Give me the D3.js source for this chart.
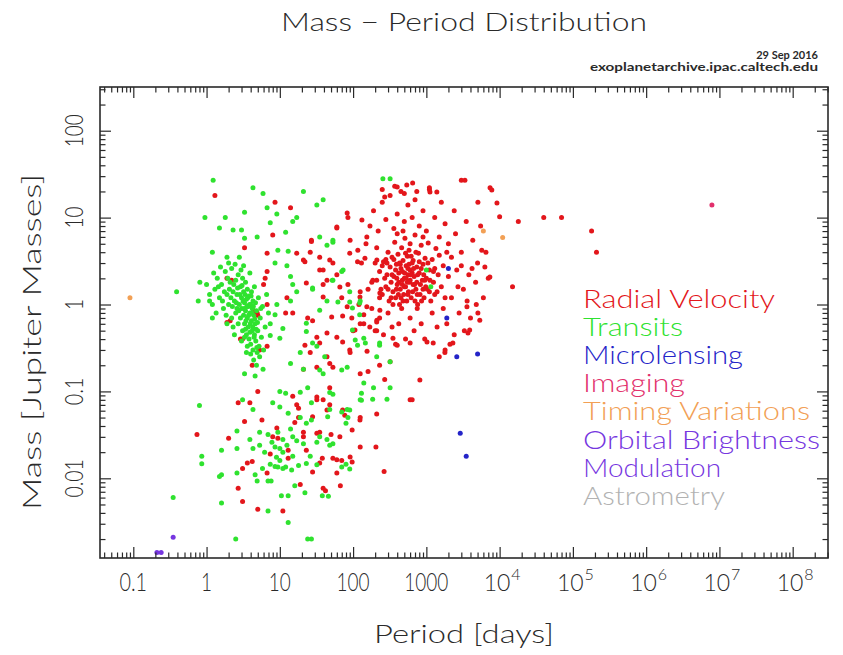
<!DOCTYPE html>
<html>
<head>
<meta charset="utf-8">
<script src="https://cdn.jsdelivr.net/npm/d3@7"></script>
<style>
  body { margin: 0; background: #fff; }
  svg { display: block; }
  text { font-family: "Lato", "DejaVu Sans", sans-serif; font-weight: 300; }
</style>
</head>
<body>
<svg id="chart" width="843" height="655"></svg>
<script>
// ---- data: [period (days), mass (Jupiter masses)] ----
const radialVelocity = [
  // dense clump of long-period giants
  [210,1.9],[230,2.4],[250,1.3],[260,3.1],[280,1.6],[290,2.2],[300,4.0],[310,1.1],[320,2.7],[330,1.8],
  [340,3.5],[350,1.4],[360,2.1],[370,5.2],[380,1.2],[390,2.9],[400,1.7],[410,3.8],[420,2.3],[430,1.0],
  [440,1.5],[450,2.6],[460,4.5],[470,1.9],[480,3.2],[490,1.3],[500,2.0],[510,5.8],[520,1.6],[530,2.8],
  [540,1.1],[550,3.6],[560,2.2],[570,1.4],[580,4.2],[590,1.8],[600,2.5],[620,1.2],[640,3.0],[660,1.7],
  [680,2.1],[700,6.3],[720,1.5],[740,2.7],[760,1.0],[780,3.9],[800,2.3],[820,1.3],[850,4.8],[880,1.9],
  [900,2.9],[930,1.2],[960,3.4],[1000,2.0],[1030,1.5],[1060,5.1],[1100,2.5],[1150,1.1],[1200,3.3],[1250,1.8],
  [1300,2.6],[1350,4.4],[1400,1.4],[1450,2.2],[1500,3.7],[1600,1.6],[1700,2.8],[1800,1.2],[1900,4.0],[2000,2.1],
  [240,1.5],[270,2.0],[330,1.2],[360,3.3],[390,1.5],[420,1.8],[440,2.9],[480,1.1],[500,1.6],[520,3.9],
  [560,1.3],[600,1.9],[640,2.3],[700,1.1],[740,1.8],[800,3.1],[860,1.1],[920,2.2],[980,1.6],[1050,3.0],
  [1120,1.9],[380,2.5],[430,3.0],[470,2.4],[530,2.0],[580,2.9],[620,3.6],[670,2.6],[720,4.0],[760,2.2],
  [450,1.2],[550,1.8],[650,1.4],[750,1.3],[850,2.6],[950,1.9],[1100,1.4],[1300,1.3],[1250,2.4],[900,1.5],
  [340,2.2],[300,1.5],[280,3.3],[250,2.8],[230,1.2],[200,3.0],[180,1.8],[400,6.5],[480,7.0],[600,5.0],
  [900,6.0],[350,1.0],[415,1.3],[505,2.3],[610,2.2],[690,1.7],[470,1.7],[395,2.0],[560,2.6],[660,3.2],[830,1.7],
  // sparser halo of the clump
  [120,1.0],[130,3.0],[140,0.6],[150,5.0],[160,1.5],[170,8.0],[180,0.9],[190,12],[200,0.5],[210,4.5],
  [220,7.0],[230,0.7],[250,15],[260,0.45],[280,9.5],[300,0.8],[320,18],[340,0.55],[360,7.5],[380,0.35],
  [400,11],[420,0.6],[450,20],[460,0.9],[500,9.0],[520,0.4],[560,14],[600,0.7],[640,10],[680,0.5],
  [700,16],[750,0.9],[800,8.0],[850,0.6],[900,12],[950,0.4],[1000,7.0],[1100,22],[1200,0.8],[1300,10],
  [1400,0.55],[1500,6.0],[1600,15],[1700,0.9],[1800,8.5],[1900,0.6],[2000,5.0],[2200,1.2],[2400,12],[2600,2.5],
  [2800,0.8],[3000,4.0],[3200,1.5],[3500,9.0],[3800,2.2],[4000,0.7],[4300,5.5],[4700,1.8],[5000,3.0],[5500,8.0],
  [6000,1.2],[6500,4.0],[7000,2.0],[2200,3.5],[2500,6.5],[2700,1.6],[3000,2.8],[3300,0.5],[3600,1.1],[4200,2.6],
  [4800,1.0],[2100,0.35],[1800,0.3],[1500,0.25],[2400,0.45],[370,23],[650,25],[1100,21],[3000,27],[7400,22],
  [250,21],[500,19],[3700,0.47],[3900,0.51],[2300,0.36],[1790,0.28],[1020,0.37],[1240,0.36],[600,0.36],[400,0.34],
  [5050,0.80],[5360,0.66],[3580,0.94],[7360,2.07],[6290,2.7],[5710,4.2],[10000,10.2],[9190,14.7],[7820,20.8],[3360,27],
  [5050,15],[1390,19.7],[1120,19.7],[740,20],[540,23.7],[400,22.5],[270,17.3],[600,0.08],[640,0.08],[815,0.135],
  // very long periods
  [18000,9.0],[40000,10],[70000,10],[180000,7.0],[210000,4.0],[15000,1.6],
  // intermediate periods
  [83,11.3],[132,9.4],[60,7.6],[27,5.5],[26,4.0],[21,3.25],[35,2.5],[44,1.9],[66,1.59],[83,0.94],
  [96,0.70],[106,0.51],[91,0.28],[169,0.55],[211,0.66],[232,0.86],[154,0.94],[124,1.22],[232,1.36],[186,1.9],
  [290,3.0],[211,3.25],[145,3.4],[116,4.2],[91,5.5],[154,6.0],[48,3.25],[35,3.5],[23,1.77],[39,1.22],
  [51,0.72],[60,0.42],[35,0.36],[26,0.28],[44,0.25],[32,0.19],[53,0.19],[48,0.11],[32,0.086],[44,0.061],
  [28,0.051],[72,0.061],[124,0.047],[21,0.030],[32,0.033],[66,0.030],[91,0.0176],[60,0.0163],[35,0.015],
  [8.6,15],[14,13],[8,6.3],[27,5.3],[60,7.8],[85,10],[6.7,3.9],[17,3.9],[22,3.1],[53,3],
  [39,2.5],[39,1.7],[60,2.2],[90,3.9],[115,3.1],[85,1.7],[70,1.2],[125,1.4],[12.5,1.2],[12,0.8],
  [15,0.8],[6.3,2],[6,1.7],[6.7,1.0],[5,0.75],[2.1,0.65],[3.1,0.4],[6.7,0.33],[24,0.7],[28,0.65],
  [32,0.42],[22,0.34],[44,0.47],[72,0.74],[140,0.76],[125,0.6],[100,0.5],[210,0.63],[210,0.5],[72,0.37],
  [90,0.3],[155,0.29],[350,0.41],[1.3,18],
  [3.3,4.5],[6.7,2.4],[2.2,1.9],[1.9,2.0],[4.9,0.8],[1.9,0.62],[2.9,0.4],[5.3,0.3],[4.4,0.85],
  // low-mass planets
  [4.2,0.2],[21,0.18],[48,0.21],[125,0.16],[160,0.17],[230,0.2],[320,0.22],
  [5,0.1],[2.7,0.074],[3.9,0.074],[15,0.088],[17,0.07],[32,0.08],[39,0.08],[48,0.07],[77,0.053],
  [125,0.05],[210,0.055],[270,0.137],[5.7,0.047],[9.1,0.038],[8,0.03],[16,0.044],[21,0.034],[35,0.034],[50,0.032],
  [97,0.036],[125,0.023],[205,0.023],[265,0.012],[3.3,0.045],[0.74,0.032],[2,0.029],[4.2,0.0156],[3.6,0.015],[7.4,0.019],
  [13,0.021],[13,0.017],[23,0.021],[38,0.017],[53,0.017],[70,0.016],[97,0.0154],[28,0.0118],[60,0.0115],[6.7,0.0115],
  [3.1,0.013],[2.7,0.0077],[19,0.0085],[39,0.0077],[42,0.0072],[67,0.0082],[3.1,0.0054],[5,0.0044],[11,0.0042],[9.4,0.029],
  [18,0.05],[18,0.064]
];

const transits = [
  // hot Jupiter clump
  [1.3,1.5],[1.4,2.0],[1.5,1.2],[1.6,1.7],[1.7,0.9],[1.8,2.4],[1.9,1.3],[2.0,1.0],[2.1,1.8],[2.2,0.7],
  [2.2,2.6],[2.3,1.4],[2.4,1.1],[2.5,0.8],[2.5,1.9],[2.6,1.3],[2.7,0.6],[2.7,2.2],[2.8,1.0],[2.9,1.6],
  [3.0,0.9],[3.0,1.2],[3.1,0.5],[3.1,2.0],[3.2,0.75],[3.2,1.4],[3.3,1.05],[3.3,0.6],[3.4,1.8],[3.4,0.85],
  [3.5,1.15],[3.5,0.45],[3.6,0.7],[3.6,1.5],[3.7,0.95],[3.7,0.55],[3.8,1.25],[3.8,0.4],[3.9,0.8],[3.9,2.3],
  [4.0,1.0],[4.0,0.35],[4.1,0.65],[4.1,1.4],[4.2,0.5],[4.2,0.9],[4.3,1.1],[4.3,0.3],[4.4,0.75],[4.5,0.45],
  [4.5,1.6],[4.6,0.6],[4.7,0.38],[4.8,0.85],[4.9,0.28],[5.0,0.5],[5.1,1.2],[5.2,0.33],[5.4,0.7],[5.6,0.42],
  [5.8,0.95],[6.0,0.3],[6.3,0.55],[6.6,1.3],[7.0,0.8],
  [1.2,1.0],[1.25,2.3],[1.35,0.8],[1.45,1.6],[1.55,2.7],[1.65,1.1],[1.75,1.4],[1.85,0.75],[1.95,2.0],[2.05,1.5],
  [2.15,1.2],[2.25,0.95],[2.35,1.7],[2.45,2.9],[2.55,1.05],[2.65,1.55],[2.75,0.85],[2.85,1.3],[2.95,2.5],[3.05,1.65],
  [3.15,1.1],[3.25,0.9],[3.35,1.3],[3.45,0.65],[3.55,0.95],[3.65,1.2],[3.75,0.75],[3.85,1.0],[3.95,0.6],[4.05,1.25],
  [4.15,0.8],[4.25,0.55],[4.35,0.95],[4.45,0.42],[4.55,0.68],[4.65,1.05],[4.75,0.52],[4.85,0.32],[4.95,0.62],[5.3,0.25],
  [5.5,0.9],[3.3,0.42],[3.6,0.33],[4.0,0.27],[3.9,0.48],[3.4,0.52],[2.9,0.7],[2.6,0.9],[2.3,0.55],[1.9,0.6],
  [2.0,3.0],[2.8,3.5],[3.2,2.8],[1.1,1.3],[1.0,1.7],[1.2,0.7],[2.4,0.45],[3.0,0.38],[3.5,0.28],[4.4,0.23],[4.8,0.2],
  // massive / wide transiting planets
  [1.23,27],[0.95,10],[1.8,10],[4.3,22],[5.9,19],[21,20],[39,16],[32,14],[3.3,11.5],[6.7,13],
  [9.1,11],[7.4,8.7],[17,10],[15,9],[1.5,7.6],[2.3,7.2],[3.0,7.2],[12,6.8],[4.9,6.0],[3.3,5.8],
  [1.2,4.0],[1.9,3.5],[9.4,4.2],[13,4.1],[44,4.8],[53,5.5],[35,6.0],[28,1.5],[44,1.1],[8.6,3.0],
  [12.5,2.8],[0.81,1.8],[0.39,1.4],[0.77,1.1],[1.1,1.1],[14,2.1],[15,1.7],[17,1.4],[14,1.1],[9.1,1.0],
  [8.6,0.76],[7.4,0.6],[7.4,0.44],[10,0.41],[11,0.53],[23,0.49],[32,0.33],[19,0.28],[90,1.4],[125,1.1],
  [98,0.91],[52,1.9],[70,2.4],[115,0.34],[140,0.41],[230,0.34],[210,0.25],[320,0.22],[255,28],[320,28],
  [1000,2.5],[1150,1.6],
  [53,5.2],[28,1.55],[53,1.9],[73,2.5],[62,1.07],[90,1.07],[123,1.04],[123,0.76],[98,0.51],[107,0.39],
  [147,0.36],[35,0.86],[23,0.61],[28,0.36],[41,0.25],[35,0.176],[70,0.176],[53,0.093],[130,0.095],[185,0.081],
  [230,0.36],[290,0.081],[27,0.074],[45,0.051],[90,0.061],[23,0.043],[35,0.03],[53,0.025],[80,0.043],[130,0.079],
  // small planets
  [3.3,0.16],[4.6,0.15],[5.9,0.18],[14,0.21],[21,0.18],[39,0.16],[83,0.19],[140,0.125],[190,0.11],[320,0.11],
  [24,0.11],[10,0.1],[12,0.095],[19,0.098],[48,0.097],[125,0.08],[3.1,0.08],[4.3,0.062],[8,0.074],[10,0.066],
  [13,0.056],[19,0.05],[27,0.047],[48,0.062],[83,0.062],[70,0.058],[85,0.05],[2.6,0.035],[3.9,0.028],[5.3,0.034],
  [6.9,0.032],[9.4,0.034],[11,0.028],[8.6,0.023],[10,0.022],[15,0.03],[17,0.027],[21,0.025],[32,0.026],[44,0.028],
  [48,0.024],[1.6,0.021],[2.6,0.022],[4.3,0.022],[5.3,0.024],[10,0.016],[12,0.0135],[11,0.013],[9.4,0.0135],[8.6,0.0137],
  [7.4,0.0145],[14.5,0.0125],[70,0.0135],[90,0.0128],[80,0.0145],[23,0.0148],[32,0.0143],[2.6,0.0115],[4.6,0.011],[6.9,0.0093],
  [7.6,0.0093],[4.9,0.0093],[16,0.0082],[22,0.0068],[13,0.0063],[10.5,0.0063],[38,0.0063],[46,0.0062],[6.9,0.0042],[1.6,0.011],
  [1.5,0.0105],[0.86,0.018],[0.86,0.0147],[13,0.0031],[2.5,0.002],[24,0.002],[27,0.002],[0.35,0.006],[1.6,0.0052],[0.8,0.069],
  [6.2,0.02],[7.8,0.026],[12.5,0.024],[15,0.018],[18,0.014],[26,0.018],[5.8,0.013],[9,0.0175],[11,0.02],[14,0.037]
];

const microlensing = [[2000,2.6],[1900,0.7],[2600,0.25],[5000,0.27],[2900,0.033],[3500,0.018]];
const imaging = [[7.9e6,14]];
const timingVariations = [[0.09,1.2],[11000,5.9],[6000,7.0]];
const orbitalBrightness = [[0.35,0.0021],[0.21,0.0014],[0.24,0.0014]];
const astrometry = [];

const xMajorTicks = [0.1, 1, 10, 100, 1000, 1e4, 1e5, 1e6, 1e7, 1e8];
const xTickLabels = ["0.1", "1", "10", "100", "1000", "10|4", "10|5", "10|6", "10|7", "10|8"];
const yMajorTicks = [0.01, 0.1, 1, 10, 100];
const yTickLabels = ["0.01", "0.1", "1", "10", "100"];

const legendNames = ["Radial Velocity", "Transits", "Microlensing", "Imaging",
                     "Timing Variations", "Orbital Brightness", "Modulation", "Astrometry"];

// ---- layout / style ----
const frame = {left: 100, right: 828, top: 87, bottom: 558};
const ink = "#2a2a2a";
const colors = {
    rv: "#e3161b", tr: "#2fe22f", ml: "#2424c8", im: "#e2306c",
    ttv: "#f2a055", obm: "#7636e0", ast: "#b2b2b2"
};
const legendColors = [colors.rv, colors.tr, colors.ml, colors.im, colors.ttv, colors.obm, colors.obm, colors.ast];
const legendWidths = [192, 100, 160, 102, 227, 237, 138, 142];

// rough label widths (px per character) to mimic the narrow plotter font
const charWidth = c => (c === "." ? 5.5 : 11);
const labelWidth = s => d3.sum(s.split(""), charWidth);

const svg = d3.select("#chart");

const x = d3.scaleLog()
    .domain([Math.pow(10, -1.4545), Math.pow(10, 8.482)])
    .range([frame.left, frame.right]);
const y = d3.scaleLog()
    .domain([Math.pow(10, -2.917), Math.pow(10, 2.503)])
    .range([frame.bottom, frame.top]);

const isMajor = v => Math.abs(Math.log10(v) - Math.round(Math.log10(v))) < 1e-6;
const xMinor = x.ticks(40).filter(v => !isMajor(v));
const yMinor = y.ticks(40).filter(v => !isMajor(v));

// Title and stamp
svg.append("text")
    .attr("x", (frame.left + frame.right) / 2)
    .attr("y", 31)
    .attr("text-anchor", "middle")
    .attr("font-size", 25)
    .attr("fill", ink)
    .attr("textLength", 366)
    .attr("lengthAdjust", "spacingAndGlyphs")
    .text("Mass \u2212 Period Distribution");

svg.append("text")
    .attr("x", 818).attr("y", 59)
    .attr("text-anchor", "end")
    .attr("font-size", 11)
    .style("font-weight", 700)
    .attr("fill", ink)
    .text("29 Sep 2016");

svg.append("text")
    .attr("x", 818).attr("y", 71)
    .attr("text-anchor", "end")
    .attr("font-size", 11)
    .style("font-weight", 700)
    .attr("fill", ink)
    .attr("textLength", 228)
    .attr("lengthAdjust", "spacingAndGlyphs")
    .text("exoplanetarchive.ipac.caltech.edu");

// Points
const plot = svg.append("g");

function drawSeries(data, color)
{
    plot.append("g")
        .selectAll("circle")
        .data(data)
        .join("circle")
        .attr("cx", d => x(d[0]))
        .attr("cy", d => y(d[1]))
        .attr("r", 2.5)
        .attr("fill", color);
}

drawSeries(radialVelocity, colors.rv);
drawSeries(transits, colors.tr);
drawSeries(microlensing, colors.ml);
drawSeries(imaging, colors.im);
drawSeries(timingVariations, colors.ttv);
drawSeries(orbitalBrightness, colors.obm);
drawSeries(astrometry, colors.ast);

// Ticks on all four sides, pointing inward
function tickAxis(axis, values, size, transform)
{
    const g = svg.append("g")
        .attr("transform", transform)
        .call(axis.tickValues(values).tickSize(-size).tickFormat(""));
    g.select(".domain").remove();
    g.selectAll(".tick line").attr("stroke", ink).attr("stroke-width", 1.2);
}

tickAxis(d3.axisBottom(x), xMinor, 5.5, `translate(0,${frame.bottom})`);
tickAxis(d3.axisBottom(x), xMajorTicks, 11, `translate(0,${frame.bottom})`);
tickAxis(d3.axisTop(x), xMinor, 5.5, `translate(0,${frame.top})`);
tickAxis(d3.axisTop(x), xMajorTicks, 11, `translate(0,${frame.top})`);
tickAxis(d3.axisLeft(y), yMinor, 5.5, `translate(${frame.left},0)`);
tickAxis(d3.axisLeft(y), yMajorTicks, 11, `translate(${frame.left},0)`);
tickAxis(d3.axisRight(y), yMinor, 5.5, `translate(${frame.right},0)`);
tickAxis(d3.axisRight(y), yMajorTicks, 11, `translate(${frame.right},0)`);

svg.append("rect")
    .attr("x", frame.left)
    .attr("y", frame.top)
    .attr("width", frame.right - frame.left)
    .attr("height", frame.bottom - frame.top)
    .attr("fill", "none")
    .attr("stroke", ink)
    .attr("stroke-width", 1.6);

// Tick labels (powers of ten as one text with a raised exponent)
xMajorTicks.forEach((v, i) => {
    const parts = xTickLabels[i].split("|");
    const base = parts[0];
    const t = svg.append("text")
        .attr("y", 591)
        .attr("fill", ink);
    if (parts.length > 1) {
        t.attr("x", x(v) - 16).attr("font-size", 23);
        t.append("tspan").text(base);
        t.append("tspan")
            .attr("font-size", 16)
            .attr("dx", 1)
            .attr("dy", -11)
            .text(parts[1]);
    } else {
        t.attr("x", x(v))
            .attr("text-anchor", "middle")
            .attr("font-size", 25)
            .attr("textLength", labelWidth(base))
            .attr("lengthAdjust", "spacingAndGlyphs")
            .text(base);
    }
});

yMajorTicks.forEach((v, i) => {
    svg.append("text")
        .attr("transform", `translate(83,${y(v)}) rotate(-90)`)
        .attr("text-anchor", "middle")
        .attr("font-size", 25)
        .attr("fill", ink)
        .attr("textLength", labelWidth(yTickLabels[i]))
        .attr("lengthAdjust", "spacingAndGlyphs")
        .text(yTickLabels[i]);
});

// Axis titles
svg.append("text")
    .attr("x", (frame.left + frame.right) / 2)
    .attr("y", 643)
    .attr("text-anchor", "middle")
    .attr("font-size", 25)
    .attr("fill", ink)
    .attr("textLength", 180)
    .attr("lengthAdjust", "spacingAndGlyphs")
    .text("Period [days]");

svg.append("text")
    .attr("transform", "translate(41,342) rotate(-90)")
    .attr("text-anchor", "middle")
    .attr("font-size", 25)
    .attr("fill", ink)
    .attr("textLength", 336)
    .attr("lengthAdjust", "spacingAndGlyphs")
    .text("Mass [Jupiter Masses]");

// Legend
legendNames.forEach((name, i) => {
    svg.append("text")
        .attr("x", 583)
        .attr("y", 308 + i * 28.1)
        .attr("font-size", 25)
        .attr("fill", legendColors[i])
        .attr("textLength", legendWidths[i])
        .attr("lengthAdjust", "spacingAndGlyphs")
        .text(name);
});
</script>
</body>
</html>
